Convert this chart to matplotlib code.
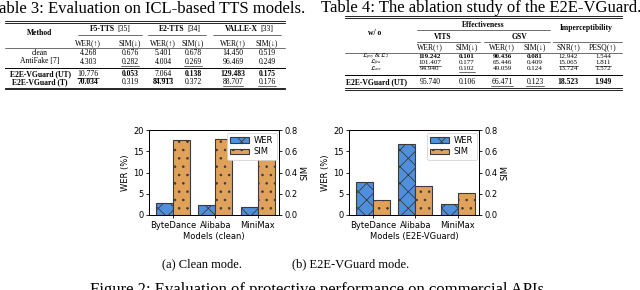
import matplotlib
matplotlib.use("Agg")
import matplotlib.pyplot as plt
from matplotlib.lines import Line2D
import numpy as np

plt.rcParams["mathtext.fontset"] = "stix"
plt.rcParams["hatch.linewidth"] = 0.6

W, H = 640, 290

# -------------------------------
# Data
# -------------------------------
apis = ["ByteDance", "Alibaba", "MiniMax"]
clean_wer = [2.9, 2.4, 2.0]
clean_sim = [0.71, 0.715, 0.70]
guard_wer = [7.7, 16.8, 2.5]
guard_sim = [0.14, 0.27, 0.205]

t3_groups = ["F5-TTS", "E2-TTS", "VALLE-X"]
t3_refs = ["[35]", "[34]", "[33]"]
t3_rows = ["clean", "AntiFake [7]", "E2E-VGuard (UT)", "E2E-VGuard (T)"]
t3_vals = [
    ["4.268", "0.676", "5.401", "0.678", "14.450", "0.519"],
    ["4.303", "0.282", "4.004", "0.269", "96.469", "0.249"],
    ["10.776", "0.053", "7.064", "0.138", "129.483", "0.175"],
    ["70.034", "0.319", "84.913", "0.372", "88.707", "0.176"],
]
# b = bold, u = underline
t3_style = [
    ["", "", "", "", "", ""],
    ["", "u", "", "u", "", ""],
    ["u", "b", "u", "b", "b", "b"],
    ["b", "", "b", "", "u", "u"],
]

t4_rows = [r"$\mathcal{L}_{psy}$ & $\mathcal{L}_2$", r"$\mathcal{L}_{fea}$",
           r"$\mathcal{L}_{asr}$", "E2E-VGuard (UT)"]
t4_cols = ["WER(↑)", "SIM(↓)", "WER(↑)", "SIM(↓)", "SNR(↑)", "PESQ(↑)"]
t4_vals = [
    ["119.242", "0.101", "90.436", "0.081", "12.942", "1.544"],
    ["101.407", "0.177", "65.446", "0.409", "15.065", "1.811"],
    ["94.940", "0.102", "49.059", "0.124", "13.724", "1.572"],
    ["95.740", "0.106", "66.471", "0.123", "18.523", "1.949"],
]
t4_style = [
    ["b", "b", "b", "b", "", ""],
    ["u", "", "", "", "u", "u"],
    ["", "u", "", "", "", ""],
    ["", "", "u", "u", "b", "b"],
]

fig = plt.figure(figsize=(6.4, 2.9), dpi=100)
serif = ["Liberation Serif", "DejaVu Serif"]
underlined = []


def fx(x):
    return x / W


def fy(y):
    return 1 - y / H


def txt(x, y, s, size=5.5, weight="normal", ha="center", underline=False, **kw):
    t = fig.text(fx(x), fy(y), s, ha=ha, va="center", fontsize=size,
                 fontweight=weight, family=serif, **kw)
    if underline:
        underlined.append(t)
    return t


def hline(x0, x1, y, lw=0.6):
    fig.add_artist(Line2D([fx(x0), fx(x1)], [fy(y), fy(y)], color="black", lw=lw))


# -------------------------------
# Captions
# -------------------------------
txt(148, 9, "Table 3: Evaluation on ICL-based TTS models.", size=12)
txt(481, 8, "Table 4: The ablation study of the E2E-VGuard.", size=12)

# -------------------------------
# Table 3
# -------------------------------
hline(5, 285, 21, 0.6)
hline(5, 285, 22.5, 0.6)
txt(40, 33, "Method", weight="bold")
g_name_right = [115, 185, 258]
g_spans = [(78, 142), (148, 206), (213, 281)]
col_x3 = [88, 130, 163, 193, 233, 267]
for g, ref, xr, sp in zip(t3_groups, t3_refs, g_name_right, g_spans):
    txt(xr, 29, g, weight="bold", ha="right")
    txt(xr + 2.5, 29, ref, ha="left")
    hline(sp[0], sp[1], 35, 0.4)
for i, cx in enumerate(col_x3):
    txt(cx, 43, "WER(↑)" if i % 2 == 0 else "SIM(↓)")
hline(5, 285, 48, 0.4)
row_y3 = [53, 61.5, 74, 82]
for r, (name, ry) in enumerate(zip(t3_rows, row_y3)):
    bold = "bold" if r >= 2 else "normal"
    txt(40, ry, name, weight=bold)
    for c, cx in enumerate(col_x3):
        st = t3_style[r][c]
        txt(cx, ry, t3_vals[r][c], weight="bold" if st == "b" else "normal",
            underline=(st == "u"))
hline(5, 285, 68, 0.7)
hline(5, 285, 87.5, 0.6)
hline(5, 285, 89, 0.6)

# -------------------------------
# Table 4
# -------------------------------
hline(345, 622, 16, 0.6)
hline(345, 622, 17.5, 0.6)
txt(375, 33, "w/ o", weight="bold")
txt(483, 25, "Effectiveness", weight="bold")
hline(417, 550, 29.5, 0.4)
txt(586, 28, "Imperceptibility", weight="bold")
txt(443, 37, "VITS", weight="bold")
txt(520, 37, "GSV", weight="bold")
hline(417, 480, 42, 0.4)
hline(484, 550, 42, 0.4)
hline(553, 622, 42, 0.4)
col_x4 = [430, 467, 502, 535, 568, 603]
for cx, lab in zip(col_x4, t4_cols):
    txt(cx, 47, lab)
hline(345, 622, 52.5, 0.4)
row_y4 = [56.8, 63, 69, 82]
for r, (name, ry) in enumerate(zip(t4_rows, row_y4)):
    sz = 5.5 if r == 3 else 5
    lab_sz = 5.5 if r == 3 else 4.6
    txt(376, ry, name, weight="bold" if r == 3 else "normal", size=lab_sz)
    for c, cx in enumerate(col_x4):
        st = t4_style[r][c]
        txt(cx, ry, t4_vals[r][c], weight="bold" if st == "b" else "normal",
            underline=(st == "u"), size=sz)
hline(345, 622, 74.5, 0.7)
hline(345, 622, 88, 0.6)
hline(345, 622, 89.5, 0.6)

# -------------------------------
# Bar charts
# -------------------------------
blue = "#4f8fdb"
orange = "#e0a25a"
edge = "#3a3a3a"
x = np.arange(len(apis))
bw = 0.4


def bar_chart(left, wer, sim, xlabel):
    ax = fig.add_axes([fx(left), fy(215), fx(130), (215 - 130) / H])
    ax2 = ax.twinx()
    b1 = ax.bar(x - bw / 2, wer, bw, color=blue, edgecolor=edge, lw=0.8,
                hatch="xx", label="WER")
    b2 = ax2.bar(x + bw / 2, sim, bw, color=orange, edgecolor=edge, lw=0.8,
                 hatch="..", label="SIM")
    ax.set_ylim(0, 20)
    ax2.set_ylim(0, 0.8)
    ax.set_xlim(-0.56, 2.5)
    ax.set_yticks([0, 5, 10, 15, 20])
    ax2.set_yticks([0.0, 0.2, 0.4, 0.6, 0.8])
    ax.set_xticks(x)
    ax.set_xticklabels(apis)
    for a in (ax, ax2):
        a.tick_params(labelsize=6, length=2.5, width=0.6, pad=1.5)
        for s in a.spines.values():
            s.set_linewidth(0.7)
    ax.set_ylabel("WER (%)", fontsize=6, labelpad=2)
    ax2.set_ylabel("SIM", fontsize=6, labelpad=2)
    ax.set_xlabel(xlabel, fontsize=6, labelpad=1.5)
    leg = ax2.legend([b1, b2], ["WER", "SIM"], loc="upper right", fontsize=6,
                     handlelength=2.2, handleheight=0.7, borderpad=0.4,
                     labelspacing=0.3, handletextpad=0.6, borderaxespad=0.3,
                     framealpha=1, fancybox=True)
    leg.get_frame().set_linewidth(0.5)
    return ax


bar_chart(149, clean_wer, clean_sim, "Models (clean)")
bar_chart(349, guard_wer, guard_sim, "Models (E2E-VGuard)")

txt(202, 264, "(a) Clean mode.", size=9)
txt(351, 264, "(b) E2E-VGuard mode.", size=9)
fig.text(fx(90), fy(282), "Figure 2: Evaluation of protective performance on commercial APIs.",
         ha="left", va="top", fontsize=12, family=serif)

# underlines under marked numbers
fig.canvas.draw()
r = fig.canvas.get_renderer()
for t in underlined:
    bb = t.get_window_extent(r)
    y = bb.y0 - 0.3
    fig.add_artist(Line2D([bb.x0 / W, bb.x1 / W], [y / H, y / H], color="black", lw=0.4))

fig.savefig("out.png", dpi=100)
